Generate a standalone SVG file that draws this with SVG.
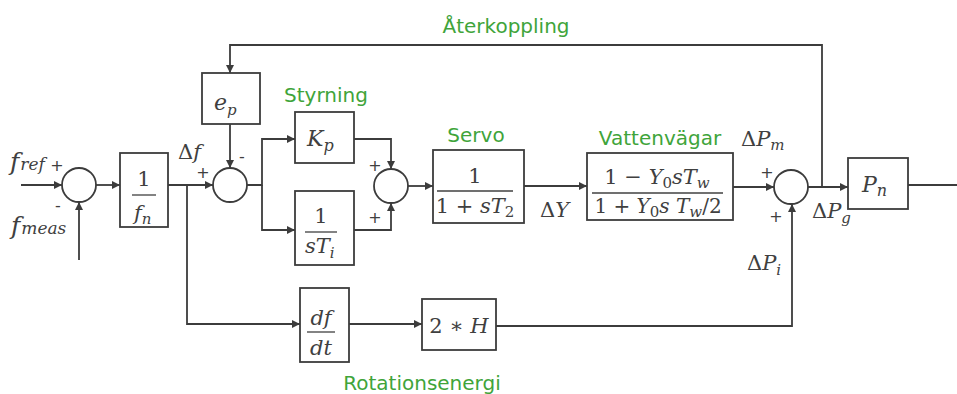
<svg xmlns="http://www.w3.org/2000/svg" width="957" height="394" viewBox="0 0 957 394">
<defs>
<style>
.ln{fill:none;stroke:#3c3c3c;stroke-width:1.8}
.bx{fill:#fff;stroke:#3c3c3c;stroke-width:1.8}
.fr{stroke:#404040;stroke-width:1.3}
.m{font-family:"DejaVu Serif","Liberation Serif",serif;font-style:italic;font-size:21px;fill:#404040}
.n{font-style:normal}
.sb{font-size:15px}
.g{font-family:"DejaVu Sans",Verdana,sans-serif;font-size:20px;fill:#40a43a}
.s{font-family:"DejaVu Sans",sans-serif;font-size:16px;fill:#404040}
</style>
<marker id="a" viewBox="0 0 10 10" refX="10" refY="5" markerWidth="9" markerHeight="8" markerUnits="userSpaceOnUse" orient="auto">
<path d="M0,0 L10,5 L0,10 z" fill="#3c3c3c"/>
</marker>
</defs>
<rect width="957" height="394" fill="#fff"/>

<g id="connectors">
<path class="ln" d="M21,185 H62" marker-end="url(#a)"/>
<path class="ln" d="M79,260 V202" marker-end="url(#a)"/>
<path class="ln" d="M96,185 H120" marker-end="url(#a)"/>
<path class="ln" d="M168,185 H213" marker-end="url(#a)"/>
<path class="ln" d="M187,185 V324 H300" marker-end="url(#a)"/>
<path class="ln" d="M822,187 V45 H230 V73" marker-end="url(#a)"/>
<path class="ln" d="M230,124 V168" marker-end="url(#a)"/>
<path class="ln" d="M247,185 H262 V139 H295" marker-end="url(#a)"/>
<path class="ln" d="M262,185 V230 H295" marker-end="url(#a)"/>
<path class="ln" d="M354,139 H391 V169" marker-end="url(#a)"/>
<path class="ln" d="M354,230 H391 V203" marker-end="url(#a)"/>
<path class="ln" d="M408,186 H433" marker-end="url(#a)"/>
<path class="ln" d="M524,186 H587" marker-end="url(#a)"/>
<path class="ln" d="M733,187 H774" marker-end="url(#a)"/>
<path class="ln" d="M808,187 H848" marker-end="url(#a)"/>
<path class="ln" d="M908,185 H957"/>
<path class="ln" d="M349,324 H422" marker-end="url(#a)"/>
<path class="ln" d="M496,326 H792 V204" marker-end="url(#a)"/>
</g>

<g id="sum1"><circle class="bx" cx="79" cy="185" r="17"/></g>
<g id="sum2"><circle class="bx" cx="230" cy="185" r="17"/></g>
<g id="sum3"><circle class="bx" cx="391" cy="186" r="17"/></g>
<g id="sum4"><circle class="bx" cx="791" cy="187" r="17"/></g>

<g id="inputs">
<text class="m" x="10" y="170" style="font-size:25px">f<tspan style="font-size:17px" dx="1">ref</tspan></text>
<text class="s" x="57" y="171" text-anchor="middle">+</text>
<text class="s" x="58" y="211" text-anchor="middle">-</text>
<text class="m" x="11" y="234" style="font-size:25px">f<tspan style="font-size:17px" dx="1">meas</tspan></text>
</g>

<g id="box-fn">
<rect class="bx" x="120" y="153" width="48" height="74"/>
<text class="m n" x="144" y="186" text-anchor="middle">1</text>
<line class="fr" x1="132" y1="195" x2="156" y2="195"/>
<text class="m" x="134" y="220">f<tspan class="sb" dy="4">n</tspan></text>
</g>

<g id="deltaf">
<text class="m" x="178" y="159"><tspan class="n">Δ</tspan>f</text>
<text class="s" x="203" y="178" text-anchor="middle">+</text>
<text class="s" x="242" y="162" text-anchor="middle">-</text>
</g>

<g id="box-ep">
<rect class="bx" x="202" y="73" width="58" height="51"/>
<text class="m" x="214" y="110" style="font-size:22px">e<tspan class="sb" dy="5">p</tspan></text>
</g>

<g id="feedback-label"><text class="g" x="506" y="33" text-anchor="middle">Återkoppling</text></g>
<g id="styrning-label"><text class="g" x="326" y="102" text-anchor="middle">Styrning</text></g>

<g id="box-kp">
<rect class="bx" x="295" y="112" width="59" height="51"/>
<text class="m" x="307" y="146" style="font-size:22px">K<tspan style="font-size:16px" dy="5">p</tspan></text>
</g>

<g id="box-sti">
<rect class="bx" x="295" y="191" width="59" height="74"/>
<text class="m n" x="321" y="223" text-anchor="middle">1</text>
<line class="fr" x1="305" y1="232" x2="337" y2="232"/>
<text class="m" x="305" y="253">sT<tspan class="sb" dy="5">i</tspan></text>
</g>

<g id="sum3-signs">
<text class="s" x="375" y="171" text-anchor="middle">+</text>
<text class="s" x="375" y="223" text-anchor="middle">+</text>
</g>

<g id="servo">
<text class="g" x="476" y="142" text-anchor="middle">Servo</text>
<rect class="bx" x="433" y="150" width="91" height="73"/>
<text class="m n" x="475" y="183" text-anchor="middle">1</text>
<line class="fr" x1="437" y1="191" x2="513" y2="191"/>
<text class="m" x="475" y="213" text-anchor="middle"><tspan class="n">1 + </tspan>sT<tspan class="sb n" dy="4">2</tspan></text>
</g>

<g id="deltaY"><text class="m" x="540" y="217"><tspan class="n">Δ</tspan>Y</text></g>

<g id="vattenvagar">
<text class="g" x="660" y="145" text-anchor="middle">Vattenvägar</text>
<rect class="bx" x="587" y="153" width="146" height="67"/>
<text class="m" x="657" y="184" text-anchor="middle"><tspan class="n">1 − </tspan>Y<tspan class="sb n" dy="4">0</tspan><tspan dy="-4">sT</tspan><tspan class="sb" dy="4">w</tspan></text>
<line class="fr" x1="592" y1="193" x2="723" y2="193"/>
<text class="m" x="658" y="213" text-anchor="middle" style="font-size:20px"><tspan class="n">1 + </tspan>Y<tspan class="sb n" dy="4">0</tspan><tspan dy="-4">s T</tspan><tspan class="sb" dy="4">w</tspan><tspan class="n" dy="-4">/2</tspan></text>
</g>

<g id="sum4-labels">
<text class="m" x="741" y="146"><tspan class="n">Δ</tspan>P<tspan class="sb" dy="4">m</tspan></text>
<text class="s" x="767" y="178" text-anchor="middle">+</text>
<text class="s" x="776" y="222" text-anchor="middle">+</text>
<text class="m" x="812" y="218"><tspan class="n">Δ</tspan>P<tspan class="sb" dy="5">g</tspan></text>
<text class="m" x="747" y="270"><tspan class="n">Δ</tspan>P<tspan class="sb" dy="5">i</tspan></text>
</g>

<g id="box-pn">
<rect class="bx" x="848" y="158" width="60" height="51"/>
<text class="m" x="862" y="192" style="font-size:22px">P<tspan style="font-size:16px" dy="4">n</tspan></text>
</g>

<g id="box-dfdt">
<rect class="bx" x="300" y="288" width="49" height="74"/>
<text class="m" x="321" y="325" text-anchor="middle">df</text>
<line class="fr" x1="307" y1="332" x2="335" y2="332"/>
<text class="m" x="321" y="355" text-anchor="middle">dt</text>
</g>

<g id="box-2h">
<rect class="bx" x="422" y="299" width="74" height="51"/>
<text class="m" x="459" y="333" text-anchor="middle"><tspan class="n">2 ∗ </tspan>H</text>
</g>

<g id="rot-label"><text class="g" x="422" y="390" text-anchor="middle">Rotationsenergi</text></g>
</svg>
